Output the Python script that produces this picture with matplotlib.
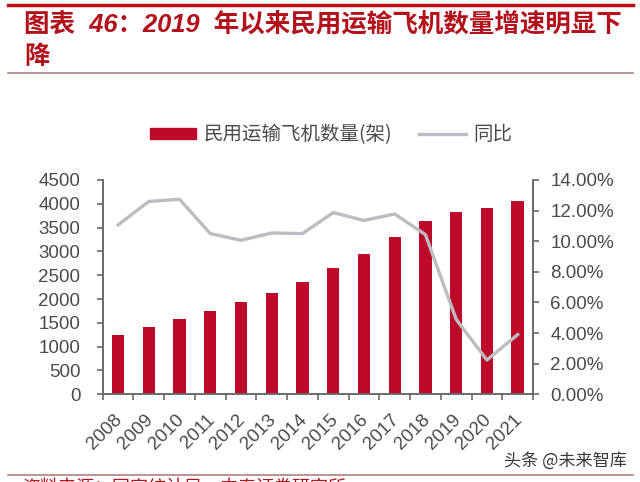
import matplotlib
matplotlib.use("Agg")
import numpy as np
import matplotlib.pyplot as plt
from matplotlib.lines import Line2D
from matplotlib.transforms import ScaledTranslation

# values
years = ['2008', '2009', '2010', '2011', '2012', '2013', '2014',
         '2015', '2016', '2017', '2018', '2019', '2020', '2021']
planes = [1246, 1407, 1589, 1757, 1939, 2135, 2366,
          2653, 2947, 3297, 3640, 3822, 3906, 4060]
yoy = [11.06, 12.6, 12.74, 10.5, 10.06, 10.54, 10.5,
       11.87, 11.36, 11.78, 10.43, 4.9, 2.24, 3.9]
left_ticks = [0, 500, 1000, 1500, 2000, 2500, 3000, 3500, 4000, 4500]
right_ticks = [0, 2, 4, 6, 8, 10, 12, 14]

title_line1 = '图表  46：2019  年以来民用运输飞机数量增速明显下'
title_line2 = '降'
source = '资料来源：国家统计局，中泰证券研究所'
watermark = '头条 @未来智库'

RED = '#BD0A2A'
GREY = '#BDBDC1'
AXIS = '#6A6A6A'
TEXT = '#4A4A4E'
TITLE = '#B2101A'
CJK = ['Noto Sans CJK SC', 'DejaVu Sans']
LATIN_CJK = ['Liberation Sans', 'Noto Sans CJK SC', 'DejaVu Sans']

plt.rcParams['font.family'] = LATIN_CJK

W, H = 640, 482
fig = plt.figure(figsize=(W / 100, H / 100), dpi=100)
ax = fig.add_axes([102.7 / W, 1 - 394.3 / H, (533 - 102.7) / W, (394.3 - 180) / H])

x = np.arange(len(years))
ax.bar(x, planes, width=0.4, color=RED)
ax.set_xlim(-0.5, len(years) - 0.5)
ax.set_ylim(0, 4500)
ax.set_yticks(left_ticks)
ax.tick_params(axis='y', direction='out', length=4.5, width=1.2, color=AXIS,
               labelsize=13.5, labelcolor=TEXT, pad=11.5)

ax.set_xticks(x)
ax.set_xticklabels(years, rotation=45, ha='right', rotation_mode='anchor',
                   fontsize=13.5, color=TEXT)
ax.set_xticks(np.arange(-0.5, len(years)), minor=True)
ax.tick_params(axis='x', which='major', length=0, pad=12)
ax.tick_params(axis='x', which='minor', direction='out', length=4, width=1.2, color=AXIS)
# labels sit a little left of the category centre
shift = ScaledTranslation(-3 / 72, 0, fig.dpi_scale_trans)
for lab in ax.get_xticklabels():
    lab.set_transform(lab.get_transform() + shift)

ax2 = ax.twinx()
ax2.plot(x, yoy, color=GREY, linewidth=2.4, solid_joinstyle='round')
ax2.set_ylim(0, 14)
ax2.set_yticks(right_ticks)
ax2.set_yticklabels(['%.2f%%' % v for v in right_ticks])
ax2.tick_params(axis='y', direction='out', length=4.5, width=1.2, color=AXIS,
                labelsize=13.5, labelcolor=TEXT, pad=8)

for a in (ax, ax2):
    a.spines['top'].set_visible(False)
    for side in ('left', 'right', 'bottom'):
        a.spines[side].set_color(AXIS)
        a.spines[side].set_linewidth(1.2)

# legend
handles = [plt.Rectangle((0, 0), 1, 1, color=RED),
           Line2D([0], [0], color=GREY, linewidth=2.4)]
fig.legend(handles, ['民用运输飞机数量(架)', '同比'], loc='center',
           bbox_to_anchor=(331 / W, 1 - 135 / H), ncol=2, frameon=False,
           labelcolor=TEXT, handlelength=2.4, handleheight=0.55,
           columnspacing=1.35, handletextpad=0.4,
           prop={'family': CJK, 'size': 14})

# title block and rules
fig.add_artist(Line2D([8 / W, 633 / W], [1 - 5 / H, 1 - 5 / H], color='#BE1018', linewidth=2.5))
fig.add_artist(Line2D([8 / W, 633 / W], [1 - 72.7 / H, 1 - 72.7 / H], color='#AD8585', linewidth=1.2))
fig.add_artist(Line2D([8 / W, 633 / W], [1 - 474.5 / H, 1 - 474.5 / H], color='#B08080', linewidth=1.2))
fig.text(24 / W, 1 - 24 / H, title_line1, fontsize=18.4, fontweight='bold', style='italic',
         color=TITLE, va='center', ha='left')
fig.text(24 / W, 1 - 57 / H, title_line2, fontsize=18.4, fontweight='bold', style='italic',
         color=TITLE, va='center', ha='left')
fig.text(22 / W, 1 - 488 / H, source, fontsize=13, color=TITLE, va='center', ha='left',
         family=CJK)
fig.text(627 / W, 1 - 461 / H, watermark, fontsize=12.3, color='#3A3A3A', va='center',
         ha='right', family=CJK)

fig.savefig('out.png', dpi=100)
